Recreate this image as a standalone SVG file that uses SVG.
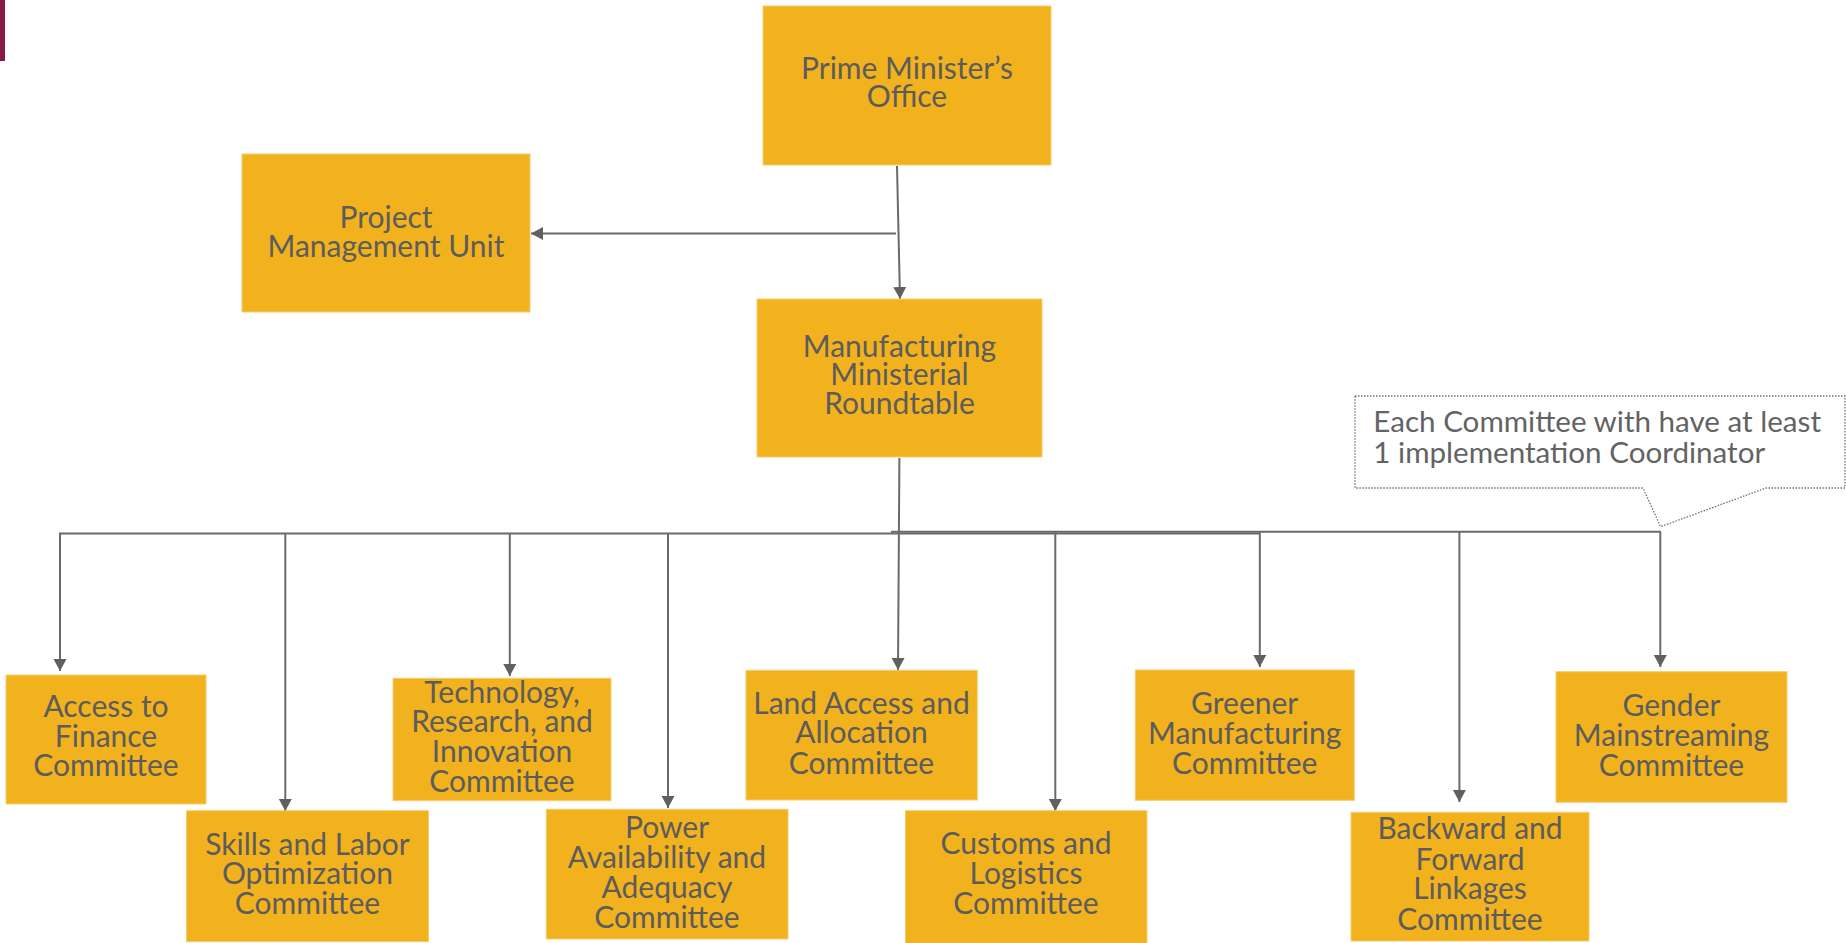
<svg xmlns="http://www.w3.org/2000/svg" width="1846" height="943" viewBox="0 0 1846 943">
<defs>
<style>
.box{fill:#F2B21E;stroke:#F6CD70;stroke-width:1}
.t{font-family:Lato,"Liberation Sans",sans-serif;font-size:30px;fill:#5C5C5C;text-anchor:middle}
.c{font-family:Lato,"Liberation Sans",sans-serif;font-size:29.6px;fill:#636363}
.ln{stroke:#6A6A6A;stroke-width:2;fill:none}
</style>
<marker id="ah" markerUnits="userSpaceOnUse" markerWidth="14" markerHeight="14" refX="12" refY="6.5" orient="auto">
<path d="M0,0 L12,6.5 L0,13 Z" fill="#606060"/>
</marker>
</defs>
<rect x="0" y="0" width="5" height="61" fill="#8B1746"/>
<g id="connectors">
<line class="ln" x1="897" y1="166" x2="900" y2="299" marker-end="url(#ah)"/>
<line class="ln" x1="896" y1="233.5" x2="531" y2="233.5" marker-end="url(#ah)"/>
<line class="ln" x1="899.4" y1="458" x2="898" y2="670" marker-end="url(#ah)"/>
<line class="ln" x1="59" y1="533.5" x2="1260" y2="533.5"/>
<line class="ln" x1="891" y1="531.7" x2="1661" y2="531.7"/>
<line class="ln" x1="60" y1="533" x2="60" y2="671" marker-end="url(#ah)"/>
<line class="ln" x1="285.3" y1="533" x2="285.3" y2="811" marker-end="url(#ah)"/>
<line class="ln" x1="509.8" y1="533" x2="509.8" y2="676" marker-end="url(#ah)"/>
<line class="ln" x1="668" y1="533" x2="668" y2="808" marker-end="url(#ah)"/>
<line class="ln" x1="1055.3" y1="532" x2="1055.3" y2="811" marker-end="url(#ah)"/>
<line class="ln" x1="1259.8" y1="532" x2="1259.8" y2="667" marker-end="url(#ah)"/>
<line class="ln" x1="1459.4" y1="532" x2="1459.4" y2="802" marker-end="url(#ah)"/>
<line class="ln" x1="1660.3" y1="532" x2="1660.3" y2="667" marker-end="url(#ah)"/>
</g>
<g id="pmo">
<rect class="box" x="763" y="6" width="288" height="159"/>
<text class="t" x="907" y="79">Prime Minister’s</text>
<text class="t" x="907" y="107.3">Office</text>
</g>
<g id="pmu">
<rect class="box" x="242" y="154" width="288" height="158"/>
<text class="t" x="386" y="228">Project</text>
<text class="t" x="386" y="257">Management Unit</text>
</g>
<g id="mmr">
<rect class="box" x="757" y="299" width="285" height="158"/>
<text class="t" x="899.5" y="356.7">Manufacturing</text>
<text class="t" x="899.5" y="385.3">Ministerial</text>
<text class="t" x="899.5" y="414.3">Roundtable</text>
</g>
<g id="callout">
<path d="M1355,396 H1845 V488 H1766 L1660.6,526.7 L1643,488 H1355 Z" fill="#FFFFFF" stroke="#707070" stroke-width="1.3" stroke-dasharray="1.5,1.5"/>
<text class="c" x="1373.3" y="432.3">Each Committee with have at least</text>
<text class="c" x="1373.3" y="463">1 implementation Coordinator</text>
</g>
<g id="access">
<rect class="box" x="6" y="675" width="200" height="129"/>
<text class="t" x="106" y="717.3">Access to</text>
<text class="t" x="106" y="746.7">Finance</text>
<text class="t" x="106" y="776">Committee</text>
</g>
<g id="skills">
<rect class="box" x="186.5" y="810.7" width="242" height="131"/>
<text class="t" x="307.5" y="855">Skills and Labor</text>
<text class="t" x="307.5" y="884.3">Optimization</text>
<text class="t" x="307.5" y="914.3">Committee</text>
</g>
<g id="tech">
<rect class="box" x="393" y="678.3" width="218" height="122.4"/>
<text class="t" x="502" y="702.7">Technology,</text>
<text class="t" x="502" y="731.7">Research, and</text>
<text class="t" x="502" y="761.7">Innovation</text>
<text class="t" x="502" y="791.7">Committee</text>
</g>
<g id="power">
<rect class="box" x="546.3" y="809.3" width="241.7" height="129.7"/>
<text class="t" x="667" y="838.3">Power</text>
<text class="t" x="667" y="868.3">Availability and</text>
<text class="t" x="667" y="897.7">Adequacy</text>
<text class="t" x="667" y="928.3">Committee</text>
</g>
<g id="land">
<rect class="box" x="746" y="670.3" width="231.3" height="129.7"/>
<text class="t" x="861.5" y="714">Land Access and</text>
<text class="t" x="861.5" y="743.3">Allocation</text>
<text class="t" x="861.5" y="774">Committee</text>
</g>
<g id="customs">
<rect class="box" x="905.5" y="810.7" width="241.5" height="133"/>
<text class="t" x="1026" y="854.3">Customs and</text>
<text class="t" x="1026" y="884.3">Logistics</text>
<text class="t" x="1026" y="914.3">Committee</text>
</g>
<g id="greener">
<rect class="box" x="1135.3" y="670" width="219" height="130.3"/>
<text class="t" x="1244.7" y="714.3">Greener</text>
<text class="t" x="1244.7" y="744">Manufacturing</text>
<text class="t" x="1244.7" y="774">Committee</text>
</g>
<g id="backward">
<rect class="box" x="1351" y="812.3" width="238" height="128.7"/>
<text class="t" x="1470" y="839.3">Backward and</text>
<text class="t" x="1470" y="870">Forward</text>
<text class="t" x="1470" y="899.3">Linkages</text>
<text class="t" x="1470" y="930">Committee</text>
</g>
<g id="gender">
<rect class="box" x="1556" y="671.7" width="231" height="130.6"/>
<text class="t" x="1671.5" y="716">Gender</text>
<text class="t" x="1671.5" y="745.7">Mainstreaming</text>
<text class="t" x="1671.5" y="775.7">Committee</text>
</g>
</svg>
